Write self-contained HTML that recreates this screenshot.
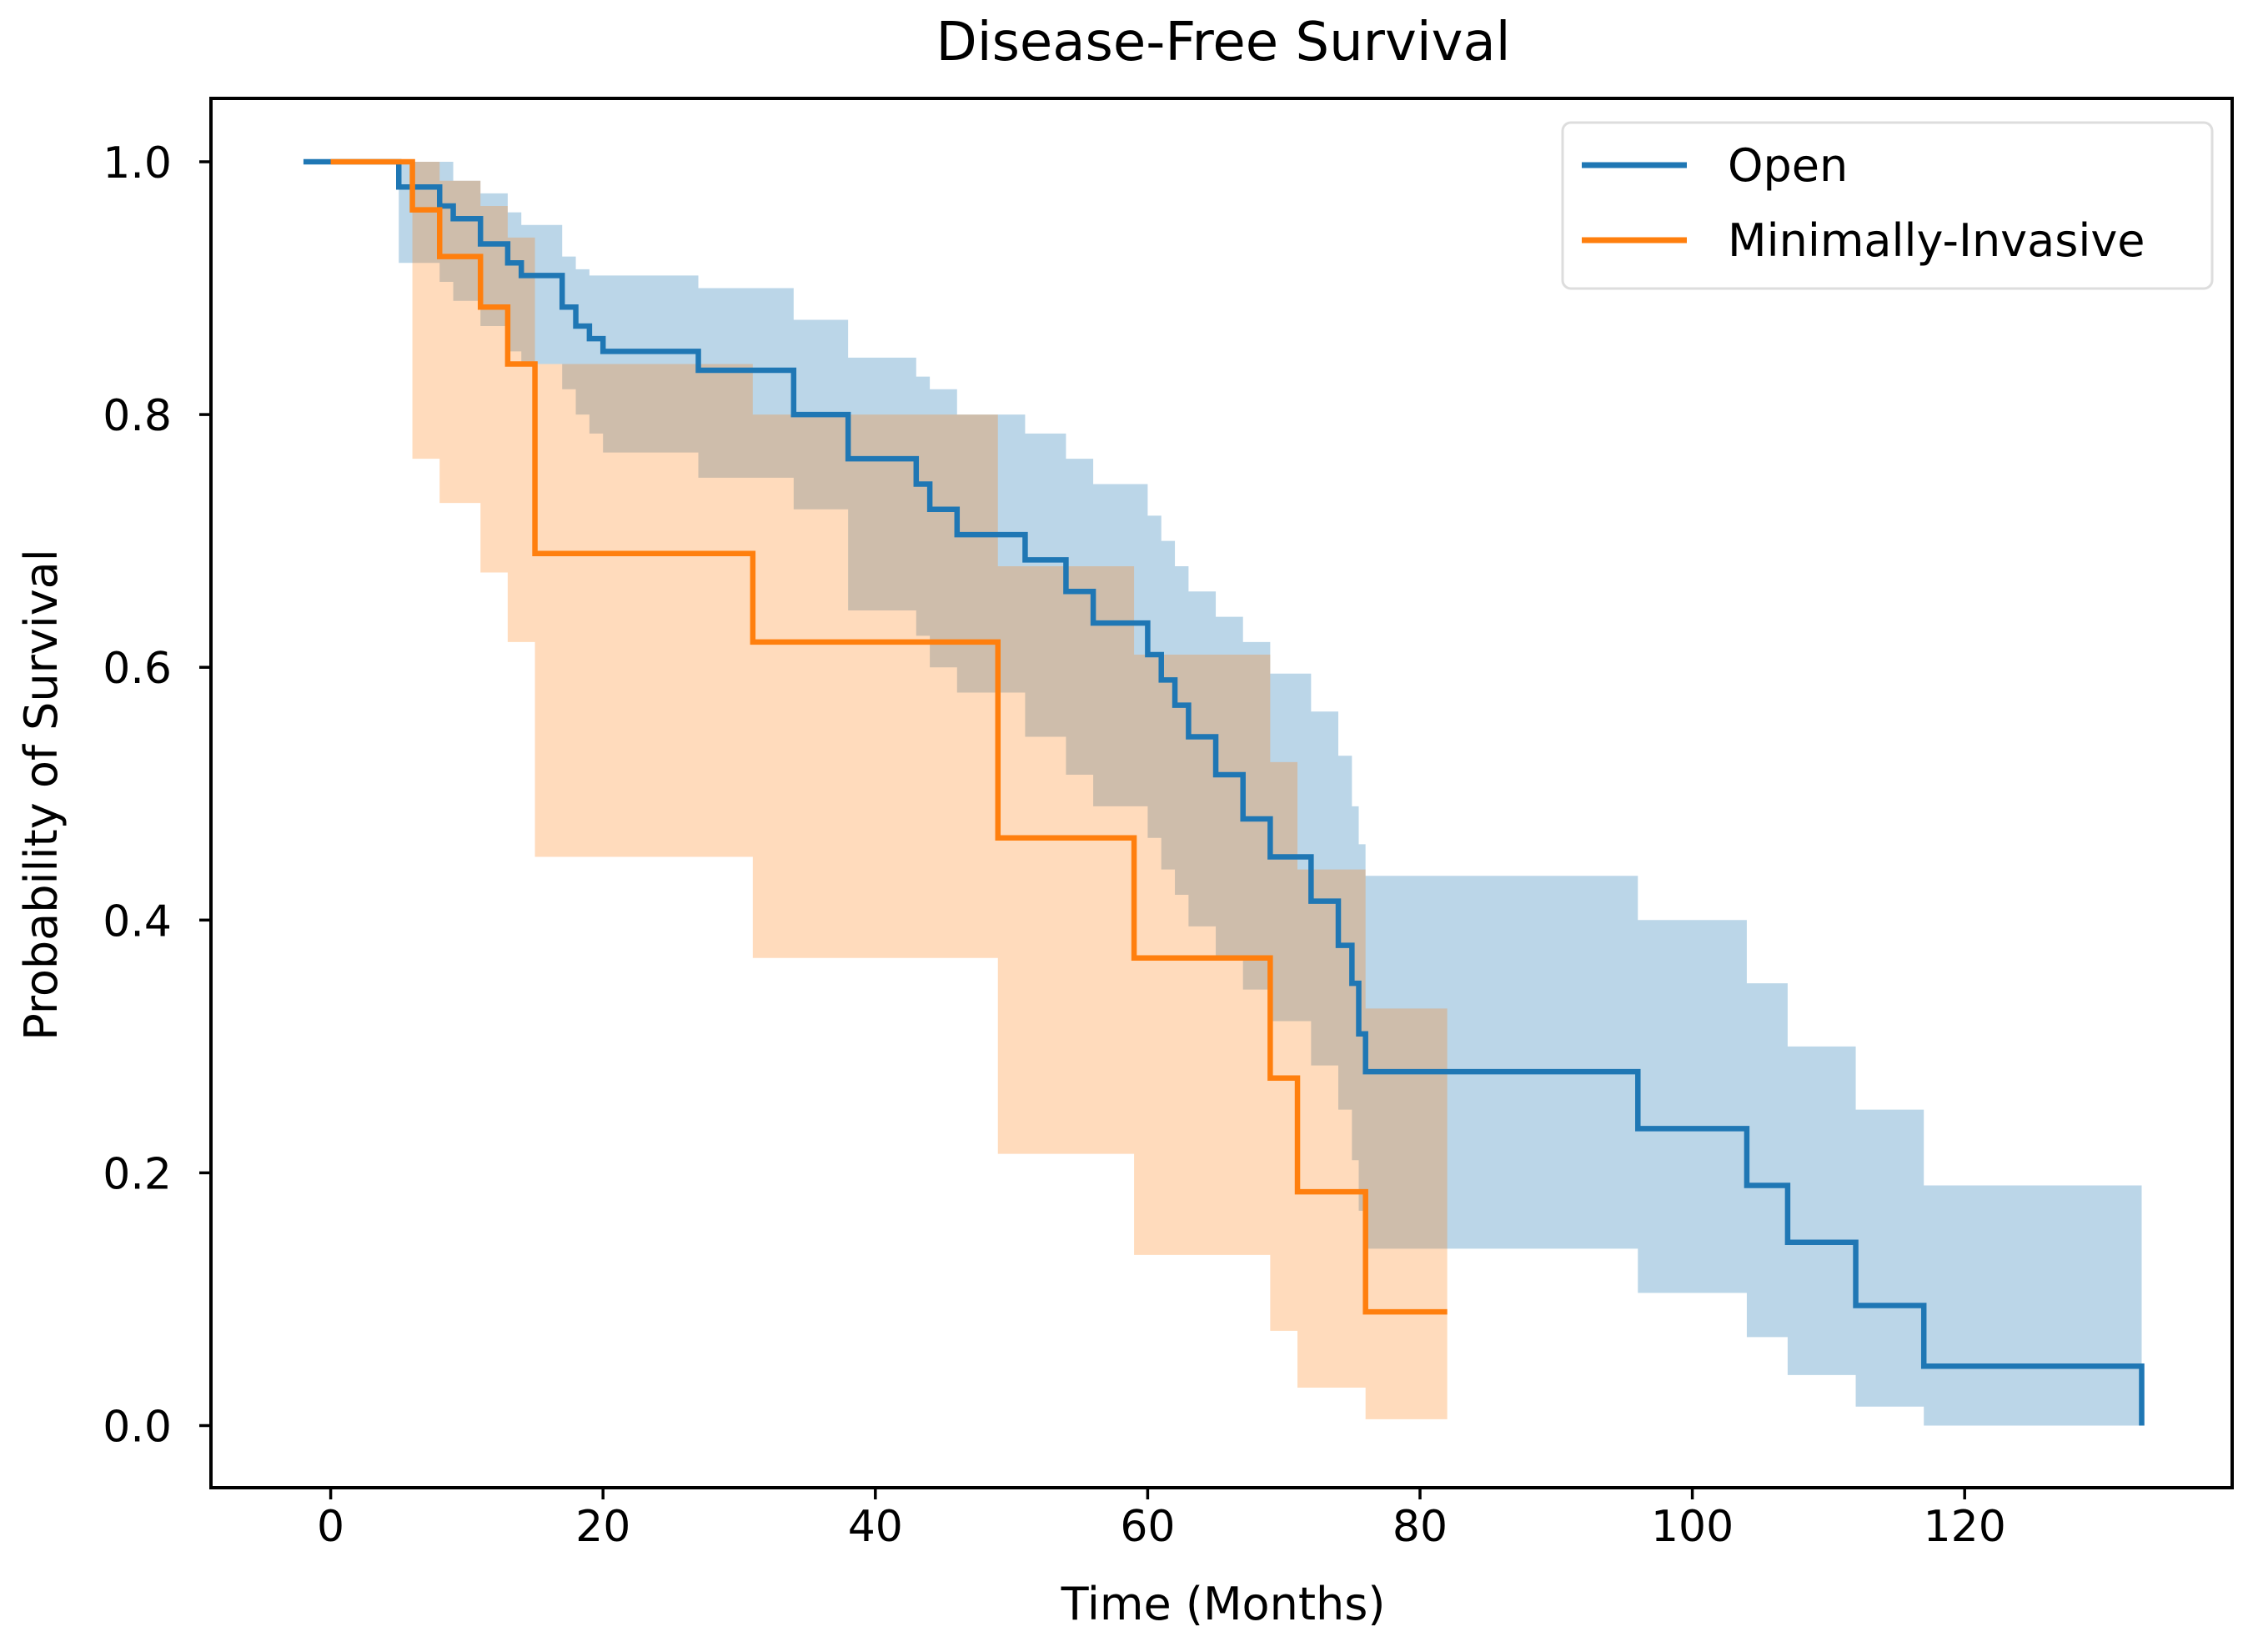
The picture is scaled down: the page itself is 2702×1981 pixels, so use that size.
<!DOCTYPE html>
<html><head><meta charset="utf-8"><style>
html,body{margin:0;padding:0;background:#fff;}
svg{display:block;font-family:"DejaVu Sans","Liberation Sans",sans-serif;}
</style></head><body>
<svg id="chart" width="2702" height="1981" viewBox="0 0 2702 1981">
<rect width="2702" height="1981" fill="#fff"/>
<text x="1467" y="72" font-size="64" text-anchor="middle">Disease-Free Survival</text>
<g id="fills"></g>
<g id="lines"></g>
<rect x="253" y="118" width="2424" height="1666" fill="none" stroke="#000" stroke-width="4"/>
<g id="ticks"></g>
<text x="1467" y="1942" font-size="54" text-anchor="middle">Time (Months)</text>
<text transform="translate(68,953) rotate(-90)" font-size="54" text-anchor="middle">Probability of Survival</text>
<g>
<rect x="1874" y="147" width="779" height="199" rx="10" fill="#fff" stroke="#ddd" stroke-width="3"/>
<line x1="1897" y1="198" x2="2023" y2="198" stroke="#1f77b4" stroke-width="7"/>
<text x="2072" y="217" font-size="54">Open</text>
<line x1="1897" y1="288" x2="2023" y2="288" stroke="#ff7f0e" stroke-width="7"/>
<text x="2072" y="307" font-size="54">Minimally-Invasive</text>
</g>
</svg>
<script>
const openTimes = [-2,5,8,9,11,13,14,17,18,19,20,27,34,38,43,44,46,51,54,56,60,61,62,63,65,67,69,72,74,75,75.5,76,96,104,107,112,117,133];
const openSurv  = [1,0.98,0.965,0.955,0.935,0.92,0.91,0.885,0.87,0.86,0.85,0.835,0.80,0.765,0.745,0.725,0.705,0.685,0.66,0.635,0.61,0.59,0.57,0.545,0.515,0.48,0.45,0.415,0.38,0.35,0.31,0.28,0.235,0.19,0.145,0.095,0.047,0.0];
const openUpper = [1,1,1,0.985,0.975,0.96,0.95,0.925,0.915,0.91,0.91,0.90,0.875,0.845,0.83,0.82,0.80,0.785,0.765,0.745,0.72,0.70,0.68,0.66,0.64,0.62,0.595,0.565,0.53,0.49,0.46,0.435,0.40,0.35,0.30,0.25,0.19,0.19];
const openLower = [1,0.92,0.905,0.89,0.87,0.85,0.84,0.82,0.80,0.785,0.77,0.75,0.725,0.645,0.625,0.60,0.58,0.545,0.515,0.49,0.465,0.44,0.42,0.395,0.37,0.345,0.32,0.285,0.25,0.21,0.17,0.14,0.105,0.07,0.04,0.015,0.0,0.0];
const misTimes = [0,6,8,11,13,15,31,49,59,69,71,76,82];
const misSurv  = [1,0.962,0.925,0.885,0.84,0.69,0.62,0.465,0.37,0.275,0.185,0.09,0.09];
const misUpper = [1,1,0.985,0.965,0.94,0.84,0.80,0.68,0.61,0.525,0.44,0.33,0.33];
const misLower = [1,0.765,0.73,0.675,0.62,0.45,0.37,0.215,0.135,0.075,0.03,0.005,0.005];
const xTicks = [0,20,40,60,80,100,120];
const yTicks = [0.0,0.2,0.4,0.6,0.8,1.0];

const NS="http://www.w3.org/2000/svg";
function X(t){return 396.6 + t*16.33;}
function Y(p){return 1709.5 - p*1515.5;}
function stepPath(ts,vs){
  let d="M"+X(ts[0])+","+Y(vs[0]);
  for(let i=1;i<ts.length;i++){d+=" H"+X(ts[i])+" V"+Y(vs[i]);}
  return d;
}
function bandPath(ts,up,lo){
  let d="M"+X(ts[0])+","+Y(up[0]);
  for(let i=1;i<ts.length;i++){d+=" H"+X(ts[i])+" V"+Y(up[i]);}
  d+=" V"+Y(lo[lo.length-1]);
  for(let i=ts.length-1;i>0;i--){d+=" H"+X(ts[i])+" V"+Y(lo[i-1]);}
  d+=" H"+X(ts[0])+" Z";
  return d;
}
const fills=document.getElementById('fills');
const lines=document.getElementById('lines');
let f1=document.createElementNS(NS,'path');
f1.setAttribute('d',bandPath(openTimes.slice(1),openUpper.slice(1),openLower.slice(1)));
f1.setAttribute('fill','rgba(31,119,180,0.3)');


fills.appendChild(f1);
let f2=document.createElementNS(NS,'path');
f2.setAttribute('d',bandPath(misTimes.slice(1),misUpper.slice(1),misLower.slice(1)));
f2.setAttribute('fill','rgba(255,127,14,0.28)');


fills.appendChild(f2);
let l1=document.createElementNS(NS,'path');
l1.setAttribute('d',stepPath(openTimes,openSurv));
l1.setAttribute('fill','none');l1.setAttribute('stroke','#1f77b4');l1.setAttribute('stroke-width','6.5');


lines.appendChild(l1);
let l2=document.createElementNS(NS,'path');
l2.setAttribute('d',stepPath(misTimes,misSurv));
l2.setAttribute('fill','none');l2.setAttribute('stroke','#ff7f0e');l2.setAttribute('stroke-width','6.5');


lines.appendChild(l2);
const tg=document.getElementById('ticks');
xTicks.forEach(v=>{
  let ln=document.createElementNS(NS,'line');
  ln.setAttribute('x1',X(v));ln.setAttribute('x2',X(v));ln.setAttribute('y1',1784);ln.setAttribute('y2',1798);
  ln.setAttribute('stroke','#000');ln.setAttribute('stroke-width','3.5');
  
  
  tg.appendChild(ln);
  let tx=document.createElementNS(NS,'text');
  tx.setAttribute('x',X(v));tx.setAttribute('y',1848);tx.setAttribute('font-size','52');tx.setAttribute('text-anchor','middle');
  tx.textContent=String(v);
  
  
  tg.appendChild(tx);
});
yTicks.forEach(v=>{
  let ln=document.createElementNS(NS,'line');
  ln.setAttribute('x1',239);ln.setAttribute('x2',253);ln.setAttribute('y1',Y(v));ln.setAttribute('y2',Y(v));
  ln.setAttribute('stroke','#000');ln.setAttribute('stroke-width','3.5');
  
  
  tg.appendChild(ln);
  let tx=document.createElementNS(NS,'text');
  tx.setAttribute('x',206);tx.setAttribute('y',Y(v)+19);tx.setAttribute('font-size','52');tx.setAttribute('text-anchor','end');
  tx.textContent=v.toFixed(1);
  
  
  tg.appendChild(tx);
});
</script>
</body></html>
